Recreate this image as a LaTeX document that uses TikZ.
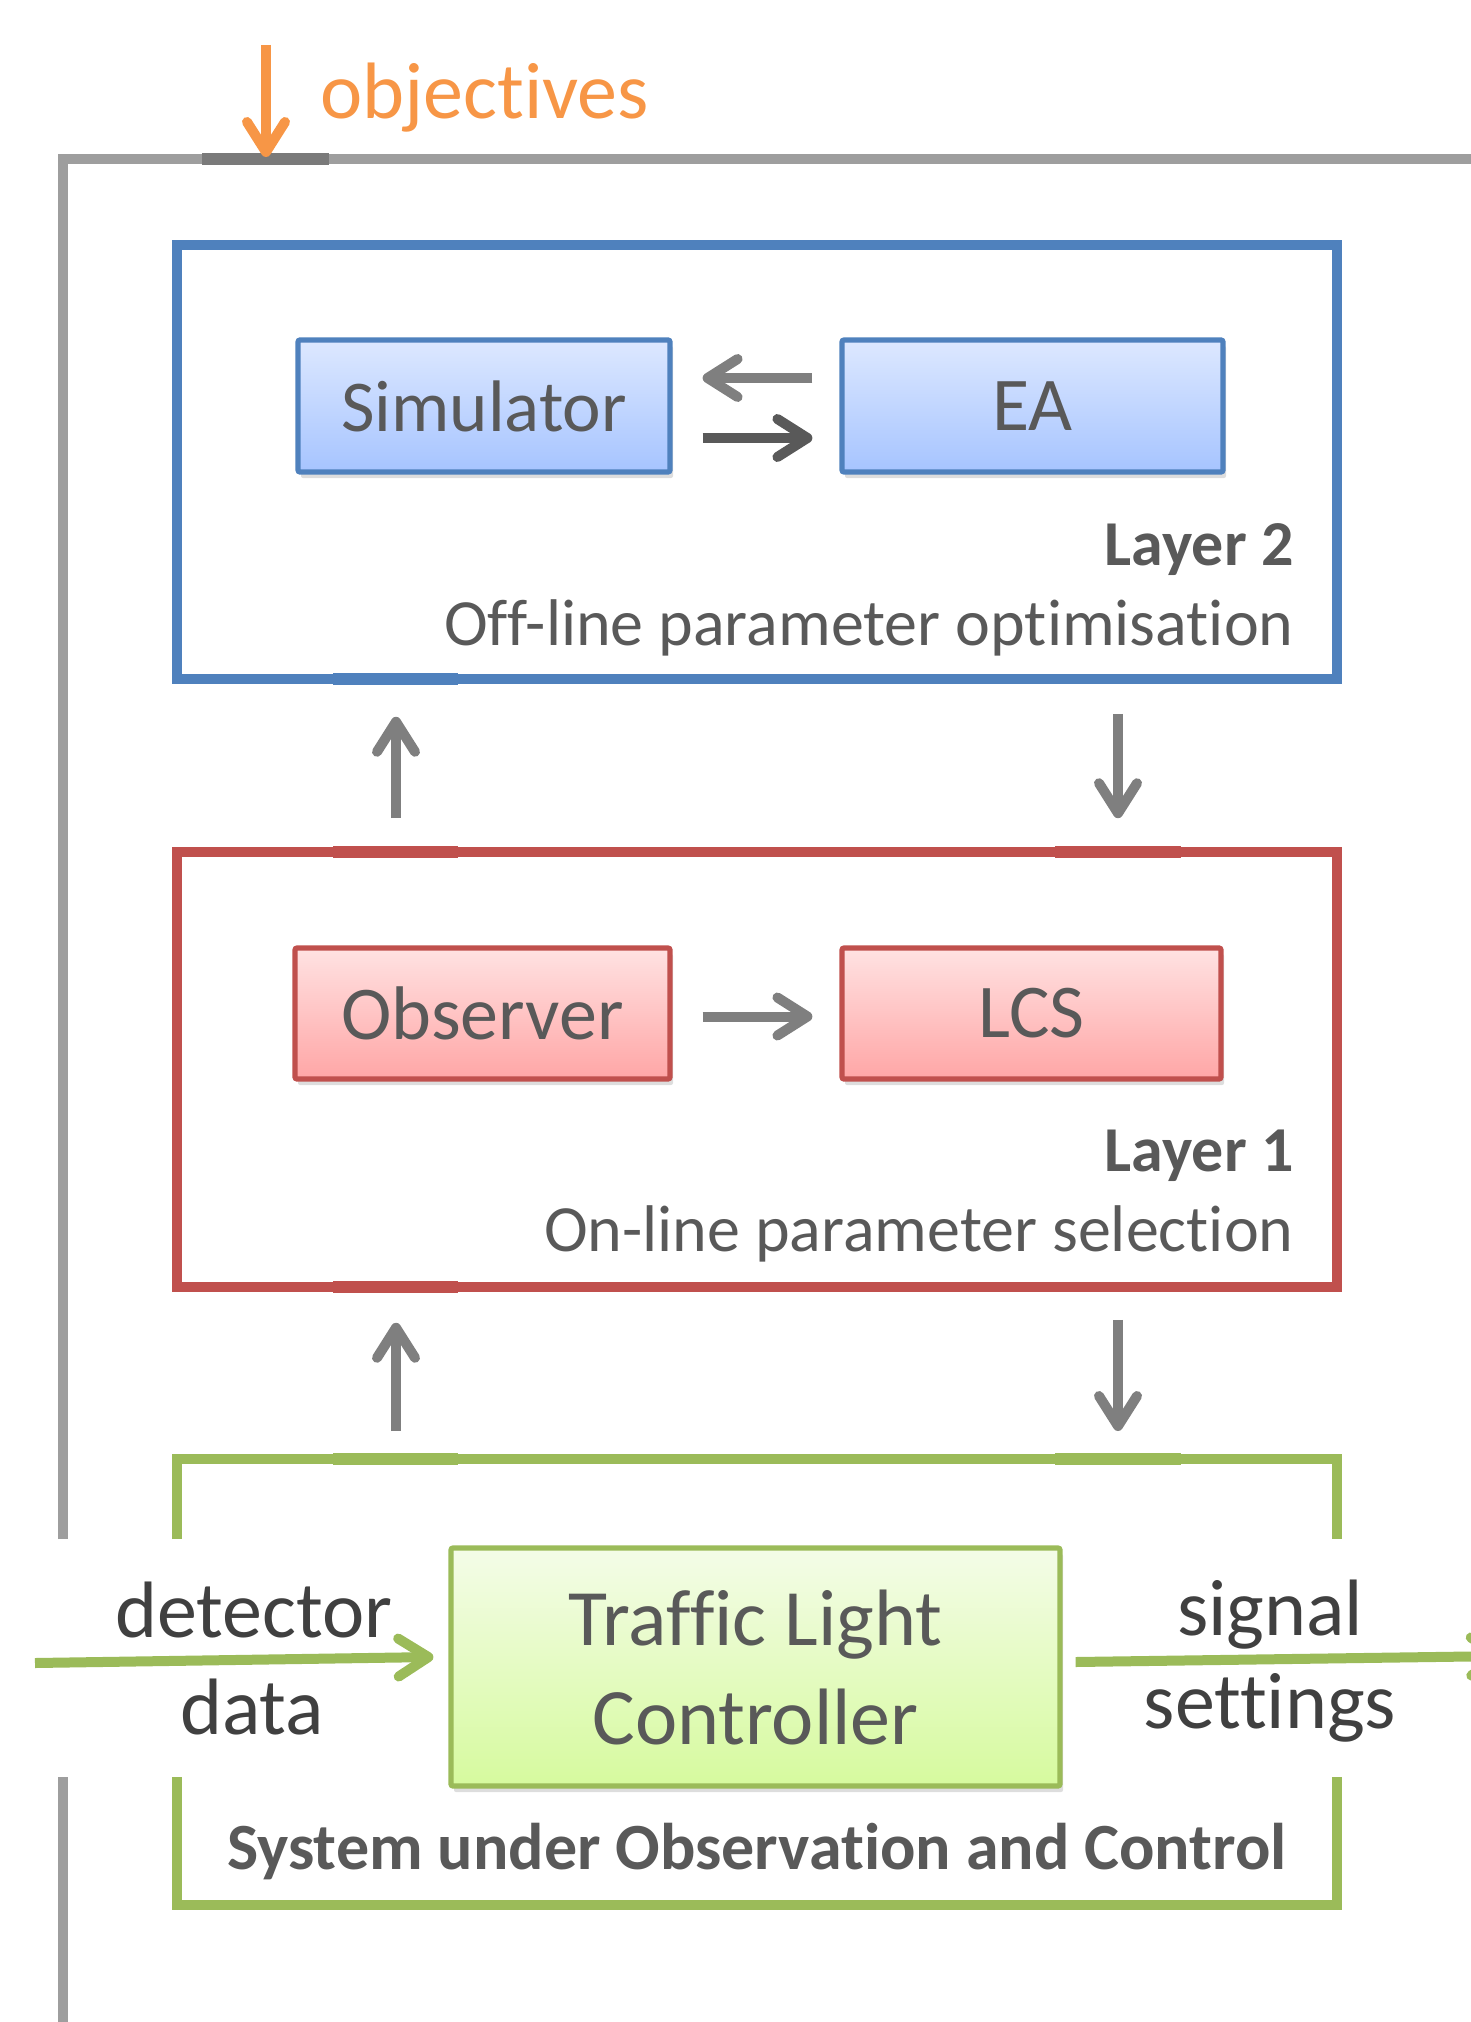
\documentclass[tikz,border=0pt]{standalone}
\usepackage{fontspec}
\setmainfont{Carlito}[Ligatures={CommonOff,ContextualOff}]
\usetikzlibrary{arrows.meta,shadows,calc}
\definecolor{framegray}{HTML}{9E9E9E}
\definecolor{darkseg}{HTML}{7A7A7A}
\definecolor{orangec}{HTML}{F79646}
\definecolor{bluec}{HTML}{4F81BD}
\definecolor{redc}{HTML}{C0504D}
\definecolor{greenc}{HTML}{9BBB59}
\definecolor{arrowgray}{HTML}{7F7F7F}
\definecolor{arrowdark}{HTML}{595959}
\definecolor{textgray}{HTML}{595959}
\definecolor{textdark}{HTML}{404040}
\definecolor{bluetop}{HTML}{DDE8FF}
\definecolor{bluebot}{HTML}{A6C4FF}
\definecolor{redtop}{HTML}{FFE2E2}
\definecolor{redbot}{HTML}{FFA6A6}
\definecolor{greentop}{HTML}{F4FCE8}
\definecolor{greenbot}{HTML}{D6FA9E}
\tikzset{
  barbtip/.tip={Straight Barb[length=15pt,width=19pt,round]},
  garrow/.style={draw=arrowgray, line width=5pt, -barbtip},
  darrow/.style={draw=arrowdark, line width=5pt, -barbtip},
  oarrow/.style={draw=orangec, line width=5pt, -barbtip},
  grarrow/.style={draw=greenc, line width=5pt, -barbtip},
  frameline/.style={draw=framegray, line width=5pt},
  layerbox/.style={draw, line width=4.8pt, minimum width=580pt, inner sep=0pt},
  innerbox/.style={draw, line width=2.6pt, inner sep=0pt, text=textgray, rounded corners=1pt,
    font=\fontsize{38}{46}\selectfont,
    drop shadow={shadow xshift=1.5pt, shadow yshift=-3pt, opacity=0.22, fill=black!60}},
  bluebox/.style={innerbox, draw=bluec, top color=bluetop, bottom color=bluebot},
  redbox/.style={innerbox, draw=redc, top color=redtop, bottom color=redbot},
  greenbox/.style={innerbox, draw=greenc, top color=greentop, bottom color=greenbot},
  layerhead/.style={anchor=base east, inner sep=0pt, text=textgray, font=\fontsize{32}{38}\selectfont\bfseries},
  layersub/.style={anchor=base east, inner sep=0pt, text=textgray, font=\fontsize{33}{40}\selectfont},
  flowlabel/.style={anchor=base, inner sep=0pt, text=textdark, font=\fontsize{40}{48}\selectfont},
}
\begin{document}
\begin{tikzpicture}[x=0.5pt,y=-0.5pt]
\useasboundingbox (0,0) rectangle (1471,2022);

% outer gray frame
\draw[frameline] (63,1539) -- (63,159) -- (1520,159);
\draw[frameline] (63,1777) -- (63,2060);
\draw[draw=darkseg, line width=6.2pt] (202,159) -- (329,159);

% objectives
\coordinate (objtop) at (266,45);
\coordinate (objbot) at (266,157);
\draw[oarrow] (objtop) -- (objbot);
\node[anchor=base west, inner sep=0pt, text=orangec, font=\fontsize{40}{48}\selectfont] (obj) at (320,119) {objectives};

% Layer 2
\node[layerbox, draw=bluec, minimum height=217pt] (blue) at (757,462) {};
\node[bluebox, minimum width=186pt, minimum height=66pt, font=\fontsize{36.5}{44}\selectfont] (sim) at (484,406) {Simulator};
\node[bluebox, minimum width=190.5pt, minimum height=66pt] (ea) at (1032.5,406) {EA};
\draw[garrow] ($(ea.west)+(-27,-28)$) -- ($(sim.east)+(30,-28)$);
\draw[darrow] ($(sim.east)+(30,32)$) -- ($(ea.west)+(-27,32)$);
\node[layerhead] (l2) at (1294,565) {Layer 2};
\node[layersub] (l2s) at (1294,645) {Off-line parameter optimisation};

% Layer 1
\node[layerbox, draw=redc, minimum height=217.5pt] (red) at (757,1069.5) {};
\node[redbox, minimum width=187.5pt, minimum height=65.5pt] (obs) at (482.5,1013.5) {Observer};
\node[redbox, minimum width=189.5pt, minimum height=65.5pt] (lcs) at (1031.5,1013.5) {LCS};
\draw[garrow] ($(obs.east)+(30,3)$) -- ($(lcs.west)+(-27,3)$);
\node[layerhead] (l1) at (1294,1171) {Layer 1};
\node[layersub] (l1s) at (1294,1251) {On-line parameter selection};

% connection marks
\draw[draw=bluec, line width=5.6pt] (333,679) -- (458,679);
\draw[draw=redc, line width=5.6pt] (333,852) -- (458,852);
\draw[draw=redc, line width=5.6pt] (1055,852) -- (1181,852);
\draw[draw=redc, line width=5.6pt] (333,1287) -- (458,1287);

% arrows between layers
\draw[garrow] ($(red.north)+(-361,-29)$) -- ($(blue.south)+(-361,33)$);
\draw[garrow] ($(blue.south)+(361,30)$) -- ($(red.north)+(361,-29)$);

% System under observation and control
\coordinate (gtl) at (177,1459);
\coordinate (gtr) at (1337,1459);
\coordinate (gbl) at (177,1905);
\coordinate (gbr) at (1337,1905);
\draw[draw=greenc, line width=4.8pt] (177,1539) -- (gtl) -- (gtr) -- (1337,1539);
\draw[draw=greenc, line width=4.8pt] (177,1777) -- (gbl) -- (gbr) -- (1337,1777);
\draw[draw=greenc, line width=5.6pt] (333,1459) -- (458,1459);
\draw[draw=greenc, line width=5.6pt] (1055,1459) -- (1181,1459);

\draw[garrow] ($(gtl)+(219,-28)$) -- ($(red.south)+(-361,31)$);
\draw[garrow] ($(red.south)+(361,28)$) -- ($(gtr)+(-219,-28)$);

\node[greenbox, minimum width=304.5pt, minimum height=119pt, align=center,
  font=\fontsize{40}{49.5}\selectfont] (tlc) at (755.5,1667) {Traffic Light\\Controller};

\coordinate (din) at (35,1663);
\coordinate (sout) at (1506,1656);
\draw[grarrow] (din) -- ($(tlc.west)+(-15,-10)$);
\draw[grarrow] ($(tlc.east)+(13,-5)$) -- (sout);

\node[flowlabel] (det) at (254,1637) {detector};
\node[flowlabel] (dat) at (252,1734) {data};
\node[flowlabel] (sig) at (1270,1635) {signal};
\node[flowlabel] (set) at (1270,1728) {settings};

\node[anchor=base, inner sep=0pt, text=textgray, font=\fontsize{33}{40}\selectfont\bfseries] (sys) at (757,1869) {System under Observation and Control};
\end{tikzpicture}
\end{document}
